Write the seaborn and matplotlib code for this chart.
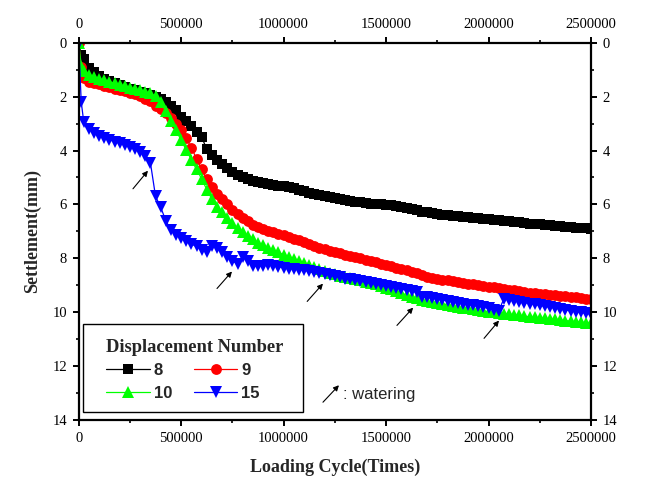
import numpy as np
import pandas as pd
import matplotlib
matplotlib.use("Agg")
import matplotlib.pyplot as plt
from matplotlib.ticker import MultipleLocator, FixedLocator
from matplotlib.patches import Rectangle
import seaborn as sns

# ---------------- data ----------------
cycles = [0, 12500] + list(range(25000, 2500001, 25000))

disp_8 = [0.0, 0.45,
          0.60, 0.95, 1.10, 1.25, 1.35, 1.42, 1.50, 1.57, 1.63, 1.70,
          1.76, 1.82, 1.88, 1.93, 2.00, 2.08, 2.20, 2.33, 2.50, 2.75,
          2.92, 3.10, 3.30, 3.50, 3.95, 4.15, 4.35, 4.50, 4.65, 4.78,
          4.90, 5.00, 5.07, 5.12, 5.15, 5.20, 5.24, 5.28, 5.30, 5.33,
          5.37, 5.40, 5.45, 5.52, 5.58, 5.62, 5.66, 5.70, 5.74, 5.78,
          5.81, 5.84, 5.87, 5.90, 5.92, 5.95, 5.97, 5.98, 6.00, 6.01,
          6.03, 6.05, 6.08, 6.12, 6.17, 6.22, 6.27, 6.30, 6.33, 6.36,
          6.38, 6.40, 6.42, 6.44, 6.46, 6.48, 6.50, 6.51, 6.53, 6.55,
          6.57, 6.59, 6.61, 6.63, 6.65, 6.67, 6.69, 6.71, 6.73, 6.74,
          6.76, 6.78, 6.80, 6.81, 6.83, 6.84, 6.86, 6.87, 6.89, 6.90]

disp_9 = [0.0, 0.90,
          1.30, 1.45, 1.50, 1.55, 1.60, 1.65, 1.70, 1.75, 1.80, 1.86,
          1.92, 1.98, 2.08, 2.18, 2.33, 2.45, 2.60, 2.80, 3.00, 3.25,
          3.55, 3.90, 4.30, 4.70, 5.05, 5.35, 5.60, 5.80, 6.00, 6.20,
          6.35, 6.50, 6.63, 6.75, 6.85, 6.92, 6.98, 7.03, 7.08, 7.13,
          7.20, 7.27, 7.33, 7.40, 7.47, 7.53, 7.60, 7.67, 7.72, 7.77,
          7.82, 7.86, 7.90, 7.95, 8.00, 8.05, 8.10, 8.15, 8.20, 8.25,
          8.30, 8.35, 8.40, 8.45, 8.50, 8.56, 8.62, 8.68, 8.72, 8.76,
          8.79, 8.82, 8.85, 8.88, 8.91, 8.94, 8.97, 9.00, 9.03, 9.05,
          9.08, 9.11, 9.14, 9.16, 9.19, 9.22, 9.24, 9.27, 9.29, 9.31,
          9.33, 9.35, 9.37, 9.39, 9.41, 9.43, 9.45, 9.47, 9.50, 9.52]

disp_10 = [0.0, 0.85,
           1.05, 1.18, 1.27, 1.33, 1.40, 1.45, 1.50, 1.56, 1.62, 1.67,
           1.72, 1.77, 1.82, 1.88, 1.98, 2.20, 2.55, 2.90, 3.25, 3.62,
           3.98, 4.35, 4.70, 5.05, 5.45, 5.80, 6.08, 6.30, 6.50, 6.70,
           6.88, 7.03, 7.18, 7.30, 7.42, 7.52, 7.62, 7.70, 7.78, 7.87,
           7.95, 8.03, 8.10, 8.18, 8.26, 8.33, 8.40, 8.47, 8.53, 8.59,
           8.64, 8.68, 8.73, 8.77, 8.82, 8.87, 8.92, 8.97, 9.03, 9.09,
           9.15, 9.22, 9.30, 9.36, 9.42, 9.48, 9.54, 9.59, 9.62, 9.65,
           9.69, 9.72, 9.76, 9.80, 9.83, 9.86, 9.89, 9.92, 9.95, 9.98,
           10.00, 10.02, 10.05, 10.07, 10.10, 10.12, 10.15, 10.17, 10.19, 10.21,
           10.23, 10.25, 10.27, 10.29, 10.31, 10.33, 10.35, 10.37, 10.39, 10.41]

disp_15 = [0.0, 2.20,
           2.95, 3.20, 3.35, 3.45, 3.52, 3.60, 3.67, 3.73, 3.80, 3.88,
           3.95, 4.05, 4.20, 4.45, 5.70, 6.10, 6.60, 6.95, 7.12, 7.25,
           7.37, 7.47, 7.56, 7.68, 7.78, 7.55, 7.62, 7.78, 7.95, 8.10,
           8.20, 7.95, 8.10, 8.28, 8.30, 8.28, 8.25, 8.28, 8.32, 8.35,
           8.38, 8.40, 8.42, 8.45, 8.48, 8.52, 8.56, 8.60, 8.63, 8.67,
           8.71, 8.75, 8.78, 8.82, 8.86, 8.89, 8.93, 8.96, 9.00, 9.04,
           9.08, 9.11, 9.15, 9.18, 9.22, 9.26, 9.42, 9.45, 9.48, 9.51,
           9.55, 9.58, 9.62, 9.65, 9.68, 9.72, 9.75, 9.78, 9.82, 9.86,
           9.90, 9.94, 9.50, 9.53, 9.57, 9.61, 9.64, 9.68, 9.71, 9.75,
           9.78, 9.82, 9.85, 9.88, 9.92, 9.95, 9.98, 10.01, 10.04, 10.07]

series_labels = ["8", "9", "10", "15"]
x_ticks = [0, 500000, 1000000, 1500000, 2000000, 2500000]
y_ticks = [0, 2, 4, 6, 8, 10, 12, 14]

# watering arrows: (tail, tip) in data coordinates
watering_arrows = [((265000, 5.42), (338000, 4.75)),
                   ((675000, 9.12), (748000, 8.49)),
                   ((1115000, 9.60), (1192000, 8.94)),
                   ((1553000, 10.49), (1632000, 9.83)),
                   ((1978000, 10.97), (2051000, 10.31))]

# ---------------- style ----------------
sns.set_style("ticks")
SERIF = ["Liberation Serif", "DejaVu Serif"]
SANS = ["Liberation Sans", "DejaVu Sans"]
plt.rcParams["font.family"] = SERIF

fig = plt.figure(figsize=(6.47, 4.91), dpi=100)
ax = fig.add_axes([0.1216, 0.1446, 0.7919, 0.7684])

styles = [
    dict(series=disp_8, color="#000000", marker="s", ms=6.8),
    dict(series=disp_9, color="#ff0000", marker="o", ms=7.8),
    dict(series=disp_10, color="#00ff00", marker="^", ms=8.2),
    dict(series=disp_15, color="#0000ff", marker="v", ms=8.2),
]
for lab, st in zip(series_labels, styles):
    df = pd.DataFrame({"cycle": cycles, "settle": st["series"]})
    sns.lineplot(data=df, x="cycle", y="settle", ax=ax, color=st["color"],
                 marker=st["marker"], markersize=st["ms"], markeredgewidth=0,
                 linewidth=0.9, label=lab, sort=False, estimator=None)

ax.set_xlim(0, 2500000)
ax.set_ylim(14, 0)
ax.xaxis.set_major_locator(FixedLocator(x_ticks))
ax.xaxis.set_minor_locator(MultipleLocator(250000))
ax.yaxis.set_major_locator(FixedLocator(y_ticks))
ax.yaxis.set_minor_locator(MultipleLocator(1))
ax.set_xticklabels([str(v) for v in x_ticks])
ax.set_yticklabels([str(v) for v in y_ticks])

for sp in ax.spines.values():
    sp.set_visible(True)
    sp.set_linewidth(1.6)
    sp.set_color("black")

ax.tick_params(which="both", direction="out", top=True, right=True,
               labeltop=True, labelright=True, colors="black", labelsize=10.5)
ax.tick_params(which="major", length=4.5, width=1.4, pad=4)
ax.tick_params(which="minor", length=2.5, width=1.2)

ax.set_xlabel("Loading Cycle(Times)", fontsize=13, fontweight="bold", labelpad=10)
ax.set_ylabel("Settlement(mm)", fontsize=13, fontweight="bold", labelpad=8)

# watering arrows
for tail, tip in watering_arrows:
    ax.annotate("", xy=tip, xytext=tail,
                arrowprops=dict(arrowstyle="-|>", color="black", lw=0.8,
                                mutation_scale=8, shrinkA=0, shrinkB=0))
ax.annotate("", xy=(1270000, 12.71), xytext=(1192000, 13.34),
            arrowprops=dict(arrowstyle="-|>", color="black", lw=0.8,
                            mutation_scale=8, shrinkA=0, shrinkB=0))
ax.text(1290000, 13.05, ": watering", fontsize=12, family=SANS,
        va="center", ha="left")

# legend: rows (8, 9) and (10, 15)
handles, labels = ax.get_legend_handles_labels()
order = [0, 2, 1, 3]
leg = ax.legend([handles[i] for i in order], [labels[i] for i in order],
                loc="upper left", bbox_to_anchor=(0.054, 0.216), ncol=2,
                title="Displacement Number", frameon=False,
                handlelength=2.6, handletextpad=0.25, columnspacing=1.3,
                labelspacing=0.45, borderpad=0.0, borderaxespad=0.0,
                prop=dict(family=SANS, weight="bold", size=12))
leg.get_title().set_fontproperties(dict(family=SERIF, weight="bold", size=13.3))
leg._legend_box.align = "left"
ax.add_patch(Rectangle((0.0084, 0.0212), 0.4294, 0.2332, transform=ax.transAxes,
                       fill=False, edgecolor="black", linewidth=1.0, zorder=5))

fig.savefig("out.png", dpi=100)
